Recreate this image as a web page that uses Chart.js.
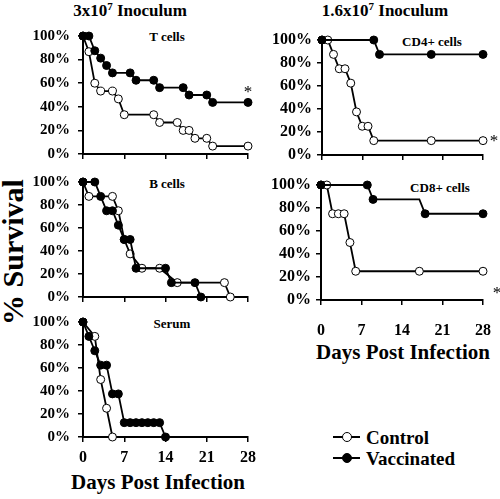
<!DOCTYPE html>
<html>
<head>
<script src="https://cdn.jsdelivr.net/npm/chart.js"></script>
<style>
  body { margin:0; background:#fff; width:500px; height:499px; position:relative; overflow:hidden;
         font-family:"Liberation Serif","Times New Roman",serif; font-weight:bold; color:#000; }
  .c { position:absolute; white-space:nowrap; transform:translate(-50%,-50%); line-height:1; }
  .l { position:absolute; white-space:nowrap; transform:translateY(-50%); line-height:1; }
  .star { font-size:17px; font-weight:normal; will-change:transform; }
  sup { font-size:11px; vertical-align:6px; line-height:0; }
  canvas { position:absolute; }
  .ln { position:absolute; height:2px; background:#000; }
  .dot { position:absolute; width:8px; height:8px; border:1px solid #000; border-radius:50%; }
</style>
</head>
<body>
<!-- titles -->
<div class="c" style="left:130px;top:10px;font-size:17px">3x10<sup>7</sup> Inoculum</div>
<div class="c" style="left:385px;top:10px;font-size:17px">1.6x10<sup>7</sup> Inoculum</div>
<div class="c" style="left:13px;top:252px;font-size:30px;transform:translate(-50%,-50%) rotate(-90deg)">% Survival</div>

<!-- panel labels -->
<div class="c" style="left:167px;top:36px;font-size:13px">T cells</div>
<div class="c" style="left:167px;top:183px;font-size:13px">B cells</div>
<div class="c" style="left:172px;top:323px;font-size:13px">Serum</div>
<div class="c" style="left:432px;top:41px;font-size:13px">CD4+ cells</div>
<div class="c" style="left:440px;top:187px;font-size:13px">CD8+ cells</div>

<!-- significance marks -->
<div class="c star" style="left:248px;top:91px">*</div>
<div class="c star" style="left:494px;top:140px">*</div>
<div class="c star" style="left:497px;top:292px">*</div>

<div class="c" style="left:158px;top:482px;font-size:21px">Days Post Infection</div>
<div class="c" style="left:403px;top:352px;font-size:21px">Days Post Infection</div>

<!-- legend -->
<div class="ln" style="left:333px;top:436px;width:27px"></div>
<div class="dot" style="left:342px;top:432px;background:#fff"></div>
<div class="l" style="left:366px;top:437px;font-size:19px">Control</div>
<div class="ln" style="left:333px;top:457px;width:27px"></div>
<div class="dot" style="left:342px;top:453px;background:#000"></div>
<div class="l" style="left:366px;top:458px;font-size:19px">Vaccinated</div>

<canvas id="pT"></canvas>
<canvas id="pB"></canvas>
<canvas id="pS"></canvas>
<canvas id="pCD4"></canvas>
<canvas id="pCD8"></canvas>

<script>
  // axis ticks
  const tickDays = [0, 7, 14, 21, 28];
  const tickPct = [0, 20, 40, 60, 80, 100];

  // T cells (3x10^7)
  const tVacDays = [0, 1, 2, 3, 4, 5, 8, 9, 12, 13, 17, 18, 21, 22, 28];
  const tVacSurv = [100, 100, 87.5, 81.25, 75, 68.75, 68.75, 62.5, 62.5, 56.25, 56.25, 50, 50, 43.75, 43.75];
  const tConDays = [0, 1, 2, 3, 5, 6, 7, 12, 13, 16, 17, 18, 19, 21, 22, 28];
  const tConSurv = [100, 86.7, 60, 53.3, 53.3, 46.7, 33.3, 33.3, 26.7, 26.7, 20, 20, 13.3, 13.3, 6.7, 6.7];

  // B cells
  const bVacDays = [0, 2, 3, 4, 5, 6, 7, 8, 9, 14, 15, 19, 20];
  const bVacSurv = [100, 100, 87.5, 75, 75, 62.5, 50, 50, 25, 25, 12.5, 12.5, 0];
  const bConDays = [0, 1, 5, 6, 7, 8, 10, 13, 16, 24, 25];
  const bConSurv = [100, 87.5, 87.5, 75, 50, 37.5, 25, 25, 12.5, 12.5, 0];

  // Serum
  const sVacDays = [0, 1, 2, 3, 4, 5, 6, 7, 8, 9, 10, 11, 12, 13, 14];
  const sVacSurv = [100, 87.5, 75, 62.5, 62.5, 37.5, 37.5, 12.5, 12.5, 12.5, 12.5, 12.5, 12.5, 12.5, 0];
  const sConDays = [0, 2, 3, 4, 5];
  const sConSurv = [100, 87.5, 50, 25, 0];

  // CD4+ cells (1.6x10^7)
  const cd4VacDays = [0, 9, 10, 19, 28];
  const cd4VacSurv = [100, 100, 87.5, 87.5, 87.5];
  const cd4ConDays = [0, 1, 2, 3, 4, 5, 6, 7, 8, 9, 19, 28];
  const cd4ConSurv = [100, 100, 87.5, 75, 75, 62.5, 37.5, 25, 25, 12.5, 12.5, 12.5];

  // CD8+ cells
  const cd8VacDays = [0, 8, 9, 17, 18, 28];
  const cd8VacSurv = [100, 100, 87.5, 87.5, 75, 75];
  const cd8ConDays = [0, 1, 2, 3, 4, 5, 6, 17, 28];
  const cd8ConSurv = [100, 100, 75, 75, 75, 50, 25, 25, 25];

  Chart.defaults.font.family = "'Liberation Serif', 'Times New Roman', serif";
  Chart.defaults.font.weight = 'bold';
  Chart.defaults.color = '#000';

  function pts(days, surv) {
    return days.map((d, i) => ({ x: d, y: surv[i] }));
  }

  function series(days, surv, filled, bareDays) {
    return {
      data: pts(days, surv),
      borderColor: '#000',
      borderWidth: 1.8,
      tension: 0,
      clip: false,
      pointRadius: ctx => (bareDays && bareDays.includes(days[ctx.dataIndex])) ? 0 : 4,
      pointBackgroundColor: filled ? '#000' : '#fff',
      pointBorderColor: '#000',
      pointBorderWidth: 1
    };
  }

  // area = where the plot box sits on the page
  function panel(id, area, vac, con, opt) {
    const yw = 80, padT = 8, padR = 12, padB = 2;
    const xh = opt.xh;
    const cv = document.getElementById(id);
    const w = yw + (area.r - area.l) + padR;
    const h = padT + (area.b - area.t) + xh + padB;
    cv.width = w; cv.height = h;
    cv.style.left = (area.l - yw) + 'px';
    cv.style.top = (area.t - padT) + 'px';
    cv.style.width = w + 'px';
    cv.style.height = h + 'px';

    new Chart(cv, {
      type: 'line',
      data: { datasets: [vac, con] },
      options: {
        responsive: false,
        animation: false,
        devicePixelRatio: 1,
        layout: { padding: { top: padT, right: padR, bottom: padB, left: 0 } },
        plugins: { legend: { display: false }, tooltip: { enabled: false } },
        scales: {
          x: {
            type: 'linear', min: 0, max: 28,
            afterBuildTicks: s => { s.ticks = tickDays.map(v => ({ value: v })); },
            afterFit: s => { s.height = xh; s.paddingLeft = 0; s.paddingRight = 0; },
            grid: { drawOnChartArea: false, drawTicks: true, tickLength: 5, color: '#000', lineWidth: 1.5 },
            border: { display: true, color: '#000', width: 2 },
            ticks: { display: opt.showX, color: '#000', padding: opt.xPad || 3, maxRotation: 0, autoSkip: false,
                     font: { size: 16, weight: 'bold' } }
          },
          y: {
            min: 0, max: 100,
            afterBuildTicks: s => { s.ticks = tickPct.map(v => ({ value: v })); },
            afterFit: s => { s.width = yw; s.paddingTop = 0; s.paddingBottom = 0; },
            grid: { drawOnChartArea: false, drawTicks: true, tickLength: 5, color: '#000', lineWidth: 1.5 },
            border: { display: true, color: '#000', width: 2 },
            ticks: { color: '#000', padding: opt.yPad, autoSkip: false, callback: v => v + '%',
                     font: { size: opt.ySize, weight: 'bold' } }
          }
        }
      }
    });
  }

  panel('pT', { l: 83, r: 248, t: 36, b: 154 },
        series(tVacDays, tVacSurv, true), series(tConDays, tConSurv, false),
        { showX: false, xh: 8, yPad: 8, ySize: 15 });
  panel('pB', { l: 83, r: 248, t: 182, b: 297 },
        series(bVacDays, bVacSurv, true), series(bConDays, bConSurv, false),
        { showX: false, xh: 8, yPad: 8, ySize: 15 });
  panel('pS', { l: 83, r: 248, t: 322, b: 437 },
        series(sVacDays, sVacSurv, true), series(sConDays, sConSurv, false),
        { showX: true, xh: 32, xPad: 6, yPad: 8, ySize: 15 });
  panel('pCD4', { l: 322, r: 483, t: 40, b: 155 },
        series(cd4VacDays, cd4VacSurv, true), series(cd4ConDays, cd4ConSurv, false),
        { showX: false, xh: 8, yPad: 5, ySize: 16 });
  panel('pCD8', { l: 321, r: 483, t: 185, b: 300 },
        series(cd8VacDays, cd8VacSurv, true, [17]), series(cd8ConDays, cd8ConSurv, false),
        { showX: true, xh: 44, xPad: 16, yPad: 5, ySize: 16 });
</script>
</body>
</html>
